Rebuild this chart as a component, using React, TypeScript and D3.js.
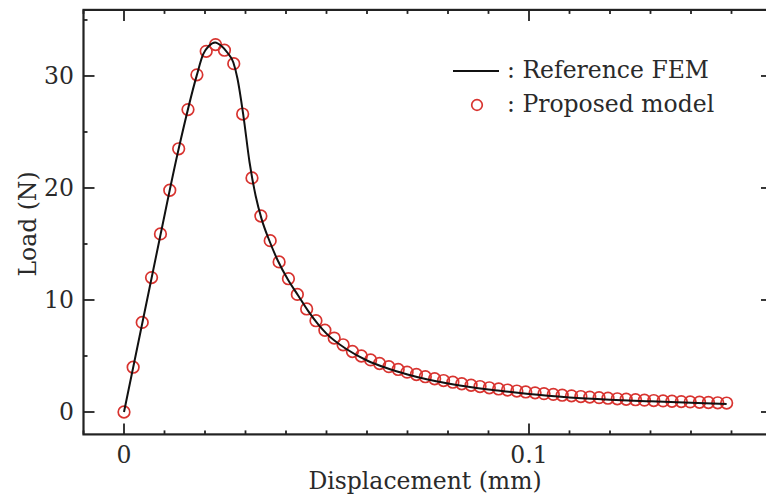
import React, { useRef, useEffect } from "react";
import * as d3 from "d3";

// proposed model markers (displacement in mm, load in N)
const modelDisp = [
  0, 0.00226, 0.0045, 0.0068, 0.009, 0.0113, 0.0135, 0.0158, 0.018, 0.0203,
  0.0226, 0.0248, 0.0271, 0.0293, 0.0316, 0.0338, 0.0361, 0.0383, 0.0406, 0.0428,
  0.0451, 0.0474, 0.0496, 0.0519, 0.0541, 0.0564, 0.0586, 0.0609, 0.0631, 0.0654,
  0.0677, 0.0699, 0.0722, 0.0744, 0.0767, 0.0789, 0.0812, 0.0834, 0.0857, 0.0879,
  0.0902, 0.0925, 0.0947, 0.097, 0.0992, 0.1015, 0.1037, 0.106, 0.1082, 0.1105,
  0.1128, 0.115, 0.1173, 0.1195, 0.1218, 0.124, 0.1263, 0.1285, 0.1308, 0.1331,
  0.1353, 0.1376, 0.1398, 0.1421, 0.1443, 0.1466, 0.1488
];
const modelLoad = [
  0, 4.0, 8.0, 12.0, 15.9, 19.8, 23.5, 27.0, 30.1, 32.2,
  32.8, 32.3, 31.1, 26.6, 20.9, 17.5, 15.3, 13.4, 11.9, 10.5,
  9.2, 8.15, 7.3, 6.6, 6.0, 5.4, 5.0, 4.65, 4.33, 4.05,
  3.8, 3.56, 3.35, 3.15, 2.97, 2.81, 2.66, 2.52, 2.39, 2.27,
  2.16, 2.06, 1.96, 1.87, 1.79, 1.71, 1.64, 1.57, 1.5, 1.44,
  1.38, 1.33, 1.28, 1.23, 1.18, 1.14, 1.1, 1.06, 1.02, 0.99,
  0.96, 0.93, 0.9, 0.87, 0.85, 0.82, 0.8
];

// reference FEM curve
const femDisp = [
  0, 0.0045, 0.009, 0.0135, 0.018, 0.0195, 0.021, 0.0225, 0.024, 0.0255,
  0.027, 0.028, 0.0295, 0.031, 0.0325, 0.034, 0.036, 0.038, 0.0405, 0.043,
  0.0455, 0.048, 0.05, 0.055, 0.06, 0.065, 0.07, 0.075, 0.08, 0.085,
  0.09, 0.095, 0.1, 0.11, 0.12, 0.13, 0.14, 0.1488
];
const femLoad = [
  0, 7.9, 15.8, 23.5, 30.1, 31.9, 32.7, 33.0, 32.7, 32.1,
  31.2, 29.8, 26.4, 22.3, 19.3, 17.2, 15.2, 13.5, 11.8, 10.4,
  9.0, 7.8, 7.0, 5.6, 4.6, 3.9, 3.35, 2.9, 2.55, 2.25,
  2.0, 1.8, 1.6, 1.3, 1.1, 0.95, 0.82, 0.72
];

const xMajor = [0, 0.1];
const xMinor = [-0.01, 0.01, 0.02, 0.03, 0.04, 0.05, 0.06, 0.07, 0.08, 0.09, 0.11, 0.12, 0.13, 0.14, 0.15];
const yMajor = [0, 10, 20, 30];
const yMinor = [5, 15, 25, 35];

const legendLabels = [": Reference FEM", ": Proposed model"];

const App = () => {
  const chart = useRef(null);

  useEffect(() => {
    const svg = d3.select(chart.current);
    svg.selectAll("*").remove();

    const font = "'DejaVu Serif', serif";
    const ink = "#222";
    const textInk = "#2a2a2a";
    const fs = 23.5;

    const x = d3.scaleLinear().domain([-0.01, 0.16]).range([83.5, 772]);
    const y = d3.scaleLinear().domain([-2, 35.9]).range([434.4, 9.9]);

    const [x0, x1] = x.range();
    const [y0, y1] = y.range();

    // markers
    svg.append("g")
      .selectAll("circle")
      .data(modelDisp)
      .join("circle")
      .attr("cx", d => x(d))
      .attr("cy", (d, i) => y(modelLoad[i]))
      .attr("r", 5.8)
      .attr("fill", "none")
      .attr("stroke", "#d8332f")
      .attr("stroke-width", 1.7);

    // reference line
    const line = d3.line<number>()
      .x(d => x(d))
      .y((d, i) => y(femLoad[i]))
      .curve(d3.curveMonotoneX);
    svg.append("path")
      .attr("d", line(femDisp))
      .attr("fill", "none")
      .attr("stroke", "#111")
      .attr("stroke-width", 2);

    // frame
    svg.append("rect")
      .attr("x", x0).attr("y", y1)
      .attr("width", x1 - x0).attr("height", y0 - y1)
      .attr("fill", "none")
      .attr("stroke", ink)
      .attr("stroke-width", 2.2);

    const major = 11, minor = 4;
    const ticks = svg.append("g").attr("stroke", ink).attr("stroke-width", 1.8);
    const xt = [...xMajor.map(v => [v, major]), ...xMinor.map(v => [v, minor])];
    const yt = [...yMajor.map(v => [v, major]), ...yMinor.map(v => [v, minor])];
    xt.forEach(([v, len]) => {
      ticks.append("line").attr("x1", x(v)).attr("x2", x(v)).attr("y1", y0).attr("y2", y0 - len);
      ticks.append("line").attr("x1", x(v)).attr("x2", x(v)).attr("y1", y1).attr("y2", y1 + len);
    });
    yt.forEach(([v, len]) => {
      ticks.append("line").attr("y1", y(v)).attr("y2", y(v)).attr("x1", x0).attr("x2", x0 + len);
      ticks.append("line").attr("y1", y(v)).attr("y2", y(v)).attr("x1", x1).attr("x2", x1 - len);
    });

    // tick labels
    svg.append("g")
      .selectAll("text")
      .data(xMajor)
      .join("text")
      .attr("x", d => x(d))
      .attr("y", 463)
      .attr("text-anchor", "middle")
      .attr("font-family", font)
      .attr("font-size", fs)
      .attr("fill", textInk)
      .text(d => d3.format("")(d));

    svg.append("g")
      .selectAll("text")
      .data(yMajor)
      .join("text")
      .attr("x", 74)
      .attr("y", d => y(d))
      .attr("dy", "0.36em")
      .attr("text-anchor", "end")
      .attr("font-family", font)
      .attr("font-size", fs)
      .attr("fill", textInk)
      .text(d => d);

    // axis titles
    svg.append("text")
      .attr("x", 425)
      .attr("y", 489)
      .attr("text-anchor", "middle")
      .attr("font-family", font)
      .attr("font-size", fs)
      .attr("fill", textInk)
      .text("Displacement (mm)");

    svg.append("text")
      .attr("transform", "translate(36,224) rotate(-90)")
      .attr("text-anchor", "middle")
      .attr("font-family", font)
      .attr("font-size", fs)
      .attr("fill", textInk)
      .text("Load (N)");

    // legend
    const lg = svg.append("g");
    lg.append("line")
      .attr("x1", 453).attr("x2", 499).attr("y1", 71).attr("y2", 71)
      .attr("stroke", "#111").attr("stroke-width", 2.2);
    lg.append("circle")
      .attr("cx", 477).attr("cy", 105).attr("r", 5.3)
      .attr("fill", "none").attr("stroke", "#d8332f").attr("stroke-width", 1.7);
    lg.selectAll("text")
      .data(legendLabels)
      .join("text")
      .attr("x", 507)
      .attr("y", (d, i) => 78 + i * 34)
      .attr("font-family", font)
      .attr("font-size", fs)
      .attr("fill", textInk)
      .text(d => d);
  });

  return (
    <svg ref={chart} width={766} height={503}
      style={{ position: "absolute", left: 0, top: 0, background: "#fff" }} />
  );
};

export default App;
